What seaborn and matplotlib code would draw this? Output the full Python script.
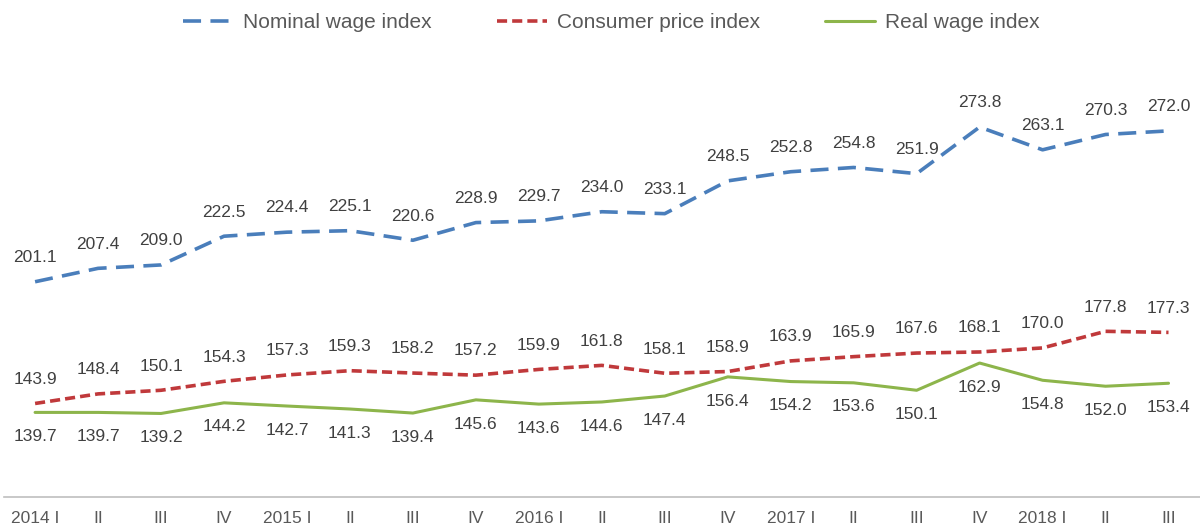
import matplotlib
matplotlib.use("Agg")
import matplotlib.pyplot as plt
import seaborn as sns
import pandas as pd
import numpy as np
from matplotlib.font_manager import FontProperties

quarters = ["2014 I", "II", "III", "IV", "2015 I", "II", "III", "IV", "2016 I", "II",
            "III", "IV", "2017 I", "II", "III", "IV", "2018 I", "II", "III"]
nominal = [201.1, 207.4, 209.0, 222.5, 224.4, 225.1, 220.6, 228.9, 229.7, 234.0,
           233.1, 248.5, 252.8, 254.8, 251.9, 273.8, 263.1, 270.3, 272.0]
cpi = [143.9, 148.4, 150.1, 154.3, 157.3, 159.3, 158.2, 157.2, 159.9, 161.8,
       158.1, 158.9, 163.9, 165.9, 167.6, 168.1, 170.0, 177.8, 177.3]
real = [139.7, 139.7, 139.2, 144.2, 142.7, 141.3, 139.4, 145.6, 143.6, 144.6,
        147.4, 156.4, 154.2, 153.6, 150.1, 162.9, 154.8, 152.0, 153.4]
series_names = ["Nominal wage index", "Consumer price index", "Real wage index"]

sns.set_theme(style="white")
plt.rcParams['font.family'] = ['Liberation Sans', 'DejaVu Sans']

fig = plt.figure(figsize=(12, 5.32), dpi=100)
ax = fig.add_axes([0.003, 0.066, 0.997, 0.80])

x = np.arange(len(quarters))
df = pd.DataFrame({"x": x, "nominal": nominal, "cpi": cpi, "real": real})

colors = ["#4a7ebb", "#c0393b", "#8db54b"]
styles = [(0, (5, 2.6)), (0, (2.8, 1.4)), "-"]
lws = [2.6, 2.6, 2.2]
cols = ["nominal", "cpi", "real"]
handles = []
for c, name, col, ls, lw in zip(cols, series_names, colors, styles, lws):
    sns.lineplot(data=df, x="x", y=c, ax=ax, color=col, linewidth=lw, label=name)
    ln = ax.lines[-1]
    ln.set_linestyle(ls)
    handles.append(ln)

txtcol = "#404040"
for xi, v in zip(x, nominal):
    ax.annotate(f"{v:.1f}", (xi, v), xytext=(0, 12), textcoords="offset points",
                ha="center", va="bottom", fontsize=12.5, color=txtcol)
for xi, v in zip(x, cpi):
    ax.annotate(f"{v:.1f}", (xi, v), xytext=(0, 12), textcoords="offset points",
                ha="center", va="bottom", fontsize=12.5, color=txtcol)
for xi, v in zip(x, real):
    ax.annotate(f"{v:.1f}", (xi, v), xytext=(0, -12), textcoords="offset points",
                ha="center", va="top", fontsize=12.5, color=txtcol)

ax.set_xlim(-0.5, len(quarters) - 0.5)
ax.set_ylim(100, 300)
ax.set_yticks([])
ax.set_xticks(x)
ax.set_xticklabels(quarters, fontsize=12.5, color="#595959")
ax.tick_params(axis="x", length=0, pad=10)
ax.set_xlabel("")
ax.set_ylabel("")
for s in ["top", "right", "left"]:
    ax.spines[s].set_visible(False)
ax.spines["bottom"].set_color("#bfbfbf")
ax.spines["bottom"].set_linewidth(1.2)

legfont = FontProperties(family=['Liberation Sans', 'DejaVu Sans'], size=15)
ax.legend(handles=handles, labels=series_names, loc="center",
          bbox_to_anchor=(0.508, 1.115), ncol=3, frameon=False, prop=legfont,
          handlelength=2.4, columnspacing=3.1, handletextpad=0.5,
          labelcolor="#595959")

fig.savefig("out.png", dpi=100)
